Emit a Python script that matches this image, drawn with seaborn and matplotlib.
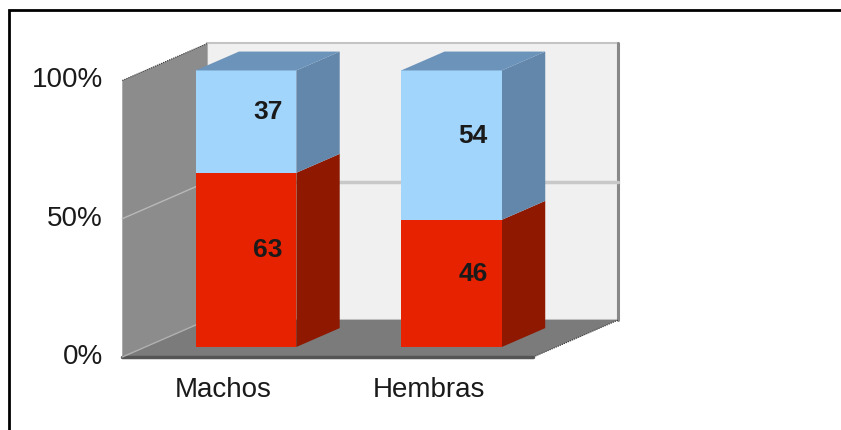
import matplotlib
matplotlib.use('Agg')
import matplotlib.pyplot as plt
import seaborn as sns
from matplotlib.patches import Polygon, Rectangle

# datos
categorias = ['Machos', 'Hembras']
rojo = [63, 46]
celeste = [37, 54]
ticks = [0, 50, 100]
tick_labels = ['0%', '50%', '100%']

sns.set_theme(style='white')
plt.rcParams['font.family'] = ['Liberation Sans', 'DejaVu Sans']

fig = plt.figure(figsize=(8.41, 4.30), dpi=100)
ax = fig.add_axes([0, 0, 1, 1])
ax.set_xlim(-1.085, 3.007)
ax.set_ylim(-26.4, 129.1)
ax.axis('off')

# profundidad 3D (caja completa) y posicion de las barras dentro de ella
DX, DY = 0.414, 13.4
x0, x1 = -0.49, 1.51
z0, z1 = 0.27, 0.78
w = 0.49


def P(x, y, z):
    return (x + z * DX, y + z * DY)


def cara(pts, color, z=1, **kw):
    ax.add_patch(Polygon(pts, closed=True, facecolor=color, edgecolor=kw.pop('ec', 'none'),
                         zorder=z, **kw))


# paredes
cara([P(x0, 0, 1), P(x1, 0, 1), P(x1, 100, 1), P(x0, 100, 1)], '#F0F0F0', ec='#C4C4C4', lw=1.5)
ax.plot(*zip(P(x1, 0, 1), P(x1, 100, 1)), color='#888888', lw=2.2, zorder=1.5)
cara([P(x0, 0, 0), P(x0, 0, 1), P(x0, 100, 1), P(x0, 100, 0)], '#8C8C8C')
cara([P(x0, 0, 0), P(x1, 0, 0), P(x1, 0, 1), P(x0, 0, 1)], '#7B7B7B')
ax.plot(*zip(P(x0, 100, 0), P(x0, 100, 1)), color='#333333', lw=0.8, ls=(0, (1, 1)), zorder=1.5)
ax.plot(*zip(P(x1, 0, 0), P(x1, 0, 1)), color='#333333', lw=0.8, ls=(0, (1, 1)), zorder=1.5)
ax.plot(*zip(P(x0, 0, 0), P(x1, 0, 0)), color='#555555', lw=2.5, zorder=1.5)

# lineas de grilla
ax.plot(*zip(P(x0, 50, 1), P(x1, 50, 1)), color='#C8C8C8', lw=2.5, zorder=1.5)
ax.plot(*zip(P(x0, 50, 0), P(x0, 50, 1)), color='#B8B8B8', lw=1, zorder=1.5)
ax.plot(*zip(P(x0, 0, 0), P(x0, 0, 1)), color='#B0B0B0', lw=1, zorder=1.5)

# barras
zm = (z0 + z1) / 2
for i, cat in enumerate(categorias):
    izq, der = i - w / 2, i + w / 2
    segs = [(0, rojo[i], '#E72200', '#8E1800'),
            (rojo[i], rojo[i] + celeste[i], '#A2D5FB', '#6287AB')]
    for b, t, c_front, c_side in segs:
        cara([P(der, b, z0), P(der, b, z1), P(der, t, z1), P(der, t, z0)], c_side, z=3)
        ax.bar(i + z0 * DX, t - b, width=w, bottom=b + z0 * DY, color=c_front,
               edgecolor='none', linewidth=0, zorder=3)
        xm, ym = P(i, (b + t) / 2, zm)
        ax.text(xm, ym, str(t - b), ha='center', va='center', fontsize=19,
                fontweight='bold', color='#1A1A1A', zorder=5)
    tope = rojo[i] + celeste[i]
    cara([P(izq, tope, z0), P(der, tope, z0), P(der, tope, z1), P(izq, tope, z1)], '#6C93BA', z=3)

# etiquetas de ejes
for v, lab in zip(ticks, tick_labels):
    ax.text(-0.585, v, lab, ha='right', va='center', fontsize=20, color='#1A1A1A')
for i, cat in enumerate(categorias):
    ax.text(i, -12, cat, ha='center', va='center', fontsize=20, color='#1A1A1A')

# marco exterior
fig.add_artist(Rectangle((9 / 841, -0.1), 1.2, 1.1 - 10 / 430, transform=fig.transFigure,
                         fill=False, lw=2, edgecolor='black'))

fig.savefig('out.png', dpi=100)
